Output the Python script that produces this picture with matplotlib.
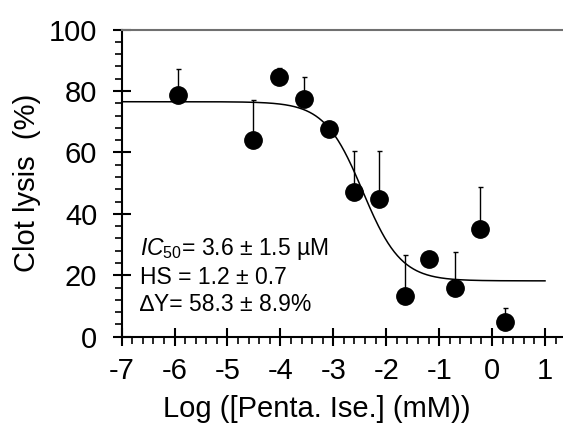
import numpy as np
import matplotlib
matplotlib.use("Agg")
import matplotlib.pyplot as plt
from matplotlib.ticker import MultipleLocator

plt.rcParams['font.family'] = ['Liberation Sans', 'DejaVu Sans']
plt.rcParams['mathtext.fontset'] = 'custom'
plt.rcParams['mathtext.rm'] = 'Liberation Sans'
plt.rcParams['mathtext.it'] = 'Liberation Sans:italic'
plt.rcParams['axes.unicode_minus'] = False

# data
log_conc = [-5.94, -4.51, -4.03, -3.55, -3.08, -2.61, -2.13, -1.65, -1.19, -0.70, -0.23, 0.25]
lysis = [78.7, 64.1, 84.5, 77.4, 67.6, 47.2, 44.8, 13.4, 25.2, 15.8, 35.1, 4.7]
err_up = [8.5, 13.0, 3.1, 7.0, 0.0, 13.4, 15.8, 13.2, 0.0, 11.9, 13.8, 4.7]

# fit parameters (sigmoid)
top, bottom = 76.5, 18.2
log_ic50 = np.log10(3.6e-3)
hill = 1.2

fig = plt.figure(figsize=(5.63, 4.34), dpi=100)
ax = fig.add_axes([0.216, 0.224, 0.784, 0.708])

xs = np.linspace(-7, 1, 400)
fit = bottom + (top - bottom) / (1 + 10 ** ((xs - log_ic50) * hill))
ax.plot(xs, fit, color='black', lw=1.1, zorder=2)

ax.errorbar(log_conc, lysis, yerr=[np.zeros(len(err_up)), err_up], fmt='o',
            color='black', ms=12.5, elinewidth=1.0, capsize=1.8, capthick=1.0, zorder=3)

ax.set_xlim(-7, 1.34)
ax.set_ylim(0, 100)
ax.set_xticks(range(-7, 2))
ax.set_yticks(range(0, 101, 20))
ax.xaxis.set_minor_locator(MultipleLocator(0.2))
ax.yaxis.set_minor_locator(MultipleLocator(4))

ax.spines['right'].set_visible(False)
ax.spines['top'].set_color('#707070')
ax.spines['top'].set_linewidth(1.5)
ax.spines['left'].set_linewidth(1.5)
ax.spines['bottom'].set_linewidth(1.5)
ax.tick_params(which='major', direction='inout', length=13, width=1.5, labelsize=21)
ax.tick_params(axis='x', which='major', pad=8)
ax.tick_params(axis='y', which='major', pad=11)
ax.tick_params(which='minor', direction='out', length=5, width=1.2)

ax.set_xlabel('Log ([Penta. Ise.] (mM))', fontsize=21)
ax.xaxis.set_label_coords(0.443, -0.19)
ax.set_ylabel('Clot lysis  (%)', fontsize=21, labelpad=6)

txt_x = -6.65
ax.text(txt_x, 28.6, r'$\mathit{IC}_{\mathit{50}}$= 3.6 ± 1.5 µM', fontsize=16.5, va='center')
ax.text(txt_x, 19.4, 'HS = 1.2 ± 0.7', fontsize=16.5, va='center')
ax.text(txt_x, 10.6, '∆Y= 58.3 ± 8.9%', fontsize=16.5, va='center')

fig.savefig('out.png', dpi=100)
